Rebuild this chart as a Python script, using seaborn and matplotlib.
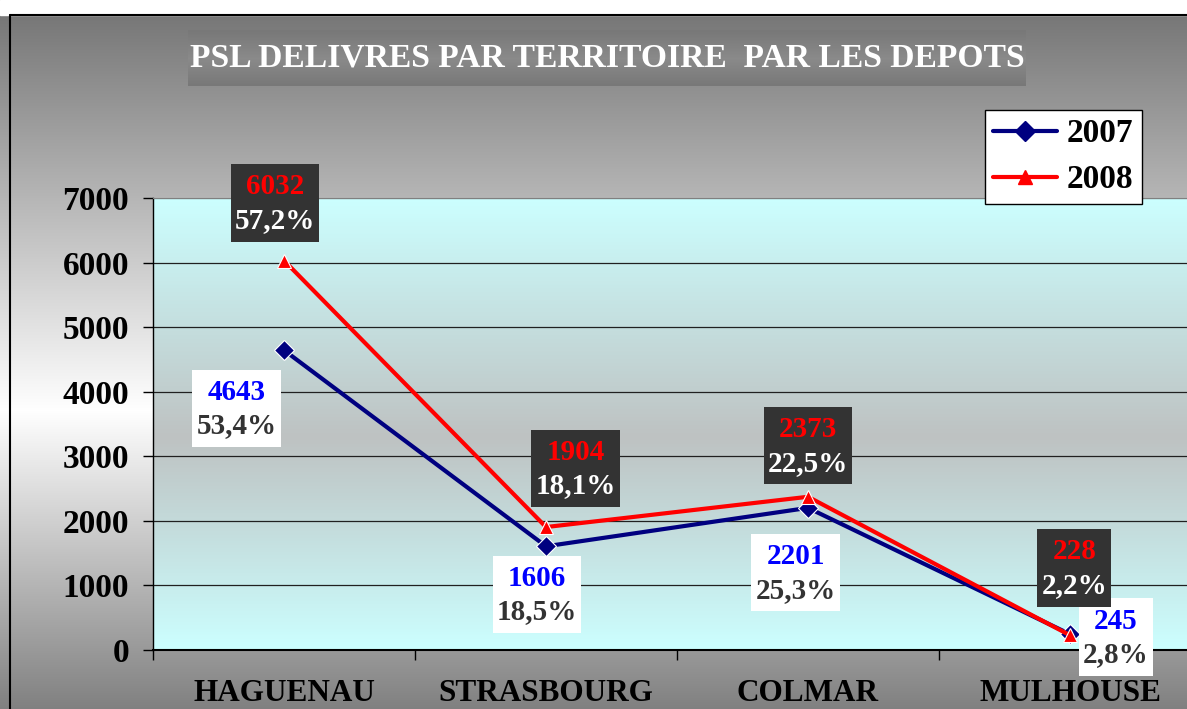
import numpy as np
import pandas as pd
import matplotlib
matplotlib.use('Agg')
import matplotlib.pyplot as plt
import seaborn as sns
from matplotlib.offsetbox import TextArea, VPacker, AnnotationBbox, DrawingArea
from matplotlib.lines import Line2D
from matplotlib.patches import Rectangle

# ---------------- data ----------------
territoires = ["HAGUENAU", "STRASBOURG", "COLMAR", "MULHOUSE"]
psl_2007 = [4643, 1606, 2201, 245]
psl_2008 = [6032, 1904, 2373, 228]
pct_2007 = ["53,4%", "18,5%", "25,3%", "2,8%"]
pct_2008 = ["57,2%", "18,1%", "22,5%", "2,2%"]
annees = ["2007", "2008"]
y_ticks = [0, 1000, 2000, 3000, 4000, 5000, 6000, 7000]
titre = "PSL DELIVRES PAR TERRITOIRE  PAR LES DEPOTS"

# ---------------- style ----------------
sns.set_style("ticks")
SERIF = ["Liberation Serif", "DejaVu Serif"]
plt.rcParams["font.family"] = SERIF
plt.rcParams["font.weight"] = "bold"
plt.rcParams["text.color"] = "black"
plt.rcParams["xtick.color"] = "black"
plt.rcParams["ytick.color"] = "black"

W, H = 1187, 709
fig = plt.figure(figsize=(W / 100, H / 100), dpi=100)

# figure background gradient (grey -> white -> grey)
bg = fig.add_axes([0, 0, 1, 1], zorder=-10)
rows = np.arange(H)
vals = np.interp(rows, [0, 15, 410, 709], [0x77, 0x77, 0xff, 0x80]) / 255
img = np.repeat(vals[:, None, None], 3, axis=2)
bg.imshow(img, aspect="auto", extent=(0, 1, 0, 1), origin="upper")
bg.add_patch(Rectangle((0, 1 - 15 / H), 1, 15 / H, color="white"))
bg.plot([10 / W, 10 / W], [0, 1 - 15 / H], color="black", lw=1.5)
bg.plot([10 / W, 1], [1 - 15 / H, 1 - 15 / H], color="black", lw=1.5)
bg.set_xlim(0, 1)
bg.set_ylim(0, 1)
bg.axis("off")

# title box
tax = fig.add_axes([188 / W, 1 - 86 / H, (1026 - 188) / W, 56 / H], zorder=-5)
tv = np.interp(np.arange(56), [0, 28, 55], [0x78, 0x8a, 0x78]) / 255
tax.imshow(np.repeat(tv[:, None, None], 3, axis=2), aspect="auto",
           extent=(0, 1, 0, 1), origin="upper")
tax.set_xlim(0, 1)
tax.set_ylim(0, 1)
tax.axis("off")
tax.text(0.5, 0.5, titre, color="white", fontsize=24.2, fontweight="bold",
         ha="center", va="center", family=SERIF)

# main axes
ax = fig.add_axes([153 / W, 1 - 650 / H, (1201 - 153) / W, (650 - 198) / H])
ax.set_facecolor("none")

df = pd.DataFrame({
    "territoire": territoires * 2,
    "psl": psl_2007 + psl_2008,
    "annee": [annees[0]] * len(territoires) + [annees[1]] * len(territoires),
})
palette = {"2007": "#000080", "2008": "#ff0000"}
markers = {"2007": "D", "2008": "^"}
sns.lineplot(data=df, x="territoire", y="psl", hue="annee", style="annee",
             markers=markers, dashes=False, palette=palette, linewidth=3,
             markersize=10.5, markeredgewidth=0.8, sort=False, legend=False,
             ax=ax, zorder=3)

# plot-area gradient (cyan -> grey -> cyan)
yy = np.linspace(7000, 0, 400)
cyan = np.array([204, 255, 255]) / 255
grey = np.array([190, 194, 194]) / 255
mid = 3300
t = np.where(yy > mid, (yy - mid) / (7000 - mid), (mid - yy) / mid)
col = grey[None, :] * (1 - t[:, None]) + cyan[None, :] * t[:, None]
ax.imshow(col[:, None, :], aspect="auto", extent=(-0.5, 3.5, 0, 7000),
          origin="upper", zorder=0)

ax.set_xlim(-0.5, 3.5)
ax.set_ylim(0, 7000)

# axes styling
ax.set_yticks(y_ticks)
ax.set_yticklabels([str(v) for v in y_ticks], fontweight="bold", fontsize=24,
                   color="black")
ax.tick_params(axis="y", length=7.2, width=1, pad=10, color="black")
ax.set_xticks(range(len(territoires)))
ax.set_xticklabels(territoires, fontweight="bold", fontsize=22.5, color="black")
ax.tick_params(axis="x", which="major", length=0, pad=21)
ax.set_xticks([-0.5, 0.5, 1.5, 2.5, 3.5], minor=True)
ax.tick_params(axis="x", which="minor", length=7.2, width=1, color="black")
ax.set_xlabel("")
ax.set_ylabel("")
ax.set_axisbelow(True)
ax.grid(axis="y", color="#202020", lw=0.9)
ax.yaxis.get_gridlines()[-1].set_color("#808080")
ax.spines["right"].set_visible(False)
ax.spines["top"].set_visible(True)
ax.spines["top"].set_color("#808080")
ax.spines["left"].set_color("black")
ax.spines["left"].set_linewidth(1)
ax.spines["bottom"].set_color("black")
ax.spines["bottom"].set_linewidth(1.5)

# data labels (offsets of the label box centre from the point, in points)
off_2007 = [(-34.2, -41.8), (-6.5, -34.6), (-9, -46.5), (32.8, -2.2)]
off_2008 = [(-6.5, 41.4), (21.2, 42.2), (0, 36.9), (3.2, 48.5)]


def add_label(xi, v, num, pct, num_col, pct_col, face, off):
    tp = dict(fontsize=21, fontweight="bold", family=SERIF)
    t1 = TextArea(num, textprops=dict(color=num_col, **tp))
    t2 = TextArea(pct, textprops=dict(color=pct_col, **tp))
    box = VPacker(children=[DrawingArea(0, 3.5), t1, DrawingArea(0, 4.9), t2,
                            DrawingArea(0, 2.5)],
                  align="center", pad=0, sep=0)
    ab = AnnotationBbox(box, (xi, v), xybox=off, boxcoords="offset points",
                        frameon=True, pad=0.62,
                        bboxprops=dict(facecolor=face, edgecolor="none",
                                       boxstyle="square"),
                        zorder=6)
    ax.add_artist(ab)


for i in range(len(territoires)):
    add_label(i, psl_2007[i], str(psl_2007[i]), pct_2007[i], "#0000ff",
              "#333333", "white", off_2007[i])
    add_label(i, psl_2008[i], str(psl_2008[i]), pct_2008[i], "#ff0000",
              "white", "#333333", off_2008[i])

# legend
handles = [Line2D([], [], color=palette[a], lw=3, marker=markers[a], ms=10.5)
           for a in annees]
leg = fig.legend(handles, annees, loc="upper left",
                 bbox_to_anchor=(985 / W, 1 - 110 / H), borderaxespad=0,
                 frameon=True, fancybox=False, edgecolor="black",
                 framealpha=1, facecolor="white",
                 prop=dict(family=SERIF, weight="bold", size=24),
                 handlelength=1.9, borderpad=0.25, labelspacing=0.45,
                 handletextpad=0.3)
for txt in leg.get_texts():
    txt.set_color("black")
leg.get_frame().set_linewidth(1)
leg.set_zorder(10)

fig.savefig("out.png", dpi=100)
